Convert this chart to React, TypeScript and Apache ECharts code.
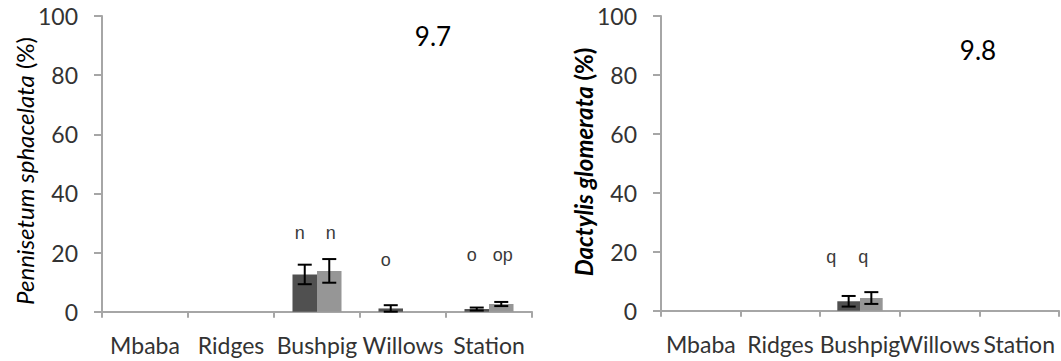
import React, { useEffect, useRef } from "react";
import * as echarts from "echarts";

const categories = ["Mbaba", "Ridges", "Bushpig", "Willows", "Station"];

// Panel 9.7 — Pennisetum sphacelata
const pennDark = [0, 0, 12.6, 1.1, 0.9];
const pennDarkErr = [0, 0, 3.3, 1.1, 0.5];
const pennLight = [0, 0, 13.8, 0, 2.6];
const pennLightErr = [0, 0, 4.0, 0, 0.7];
const pennLettersDark = ["", "", "n", "o", "o"];
const pennLettersLight = ["", "", "n", "", "op"];
const pennLetterY = [0, 0, 26.6, 17.5, 19.3];

// Panel 9.8 — Dactylis glomerata
const dactDark = [0, 0, 3.2, 0, 0];
const dactDarkErr = [0, 0, 1.8, 0, 0];
const dactLight = [0, 0, 4.3, 0, 0];
const dactLightErr = [0, 0, 2.0, 0, 0];
const dactLettersDark = ["", "", "q", "", ""];
const dactLettersLight = ["", "", "q", "", ""];
const dactLetterY = [0, 0, 18.2, 0, 0];

const panelLabels = ["9.7", "9.8"];
const speciesNames = ["Pennisetum sphacelata", "Dactylis glomerata"];
const unitLabel = " (%)";

const FONT = "Lato";
const DARK = "#505050";
const LIGHT = "#969696";
const AXIS = "#a6a6a6";
const TEXT = "#333333";

function errorSeries(values: number[], errs: number[], side: number, gridIdx: number) {
  const data = values.map((v, i) => [i, v, errs[i]]);
  return {
    type: "custom",
    xAxisIndex: gridIdx,
    yAxisIndex: gridIdx,
    silent: true,
    z: 5,
    data,
    renderItem: (params: any, api: any) => {
      const err = api.value(2);
      if (!err) return null;
      const idx = api.value(0);
      const v = api.value(1);
      const band = api.size([1, 0])[0];
      const barW = band * 0.285;
      const c = api.coord([idx, v]);
      const x = c[0] + side * barW / 2;
      const top = api.coord([idx, v + err])[1];
      const bot = api.coord([idx, Math.max(0, v - err)])[1];
      const hw = 7;
      const style = { stroke: "#000", lineWidth: 2 };
      return {
        type: "group",
        children: [
          { type: "line", shape: { x1: x, y1: top, x2: x, y2: bot }, style },
          { type: "line", shape: { x1: x - hw, y1: top, x2: x + hw, y2: top }, style },
          { type: "line", shape: { x1: x - hw, y1: bot, x2: x + hw, y2: bot }, style },
        ],
      };
    },
  };
}

function letterSeries(letters: string[], ys: number[], offsetFrac: number, gridIdx: number) {
  const data = letters.map((t, i) => [i, ys[i], t]);
  return {
    type: "custom",
    xAxisIndex: gridIdx,
    yAxisIndex: gridIdx,
    silent: true,
    z: 6,
    data,
    renderItem: (params: any, api: any) => {
      const t = letters[params.dataIndex];
      if (!t) return null;
      const idx = api.value(0);
      const band = api.size([1, 0])[0];
      const c = api.coord([idx, api.value(1)]);
      return {
        type: "text",
        style: {
          x: c[0] + offsetFrac * band,
          y: c[1],
          text: t,
          fill: "#3a3a3a",
          font: "18px 'Liberation Sans', Arial, sans-serif",
          align: "center",
          verticalAlign: "middle",
        },
      };
    },
  };
}

function barSeries(values: number[], color: string, gridIdx: number) {
  return {
    type: "bar",
    xAxisIndex: gridIdx,
    yAxisIndex: gridIdx,
    data: values,
    barGap: "0%",
    barCategoryGap: "43%",
    itemStyle: { color },
    silent: true,
  };
}

function xAxis(gridIdx: number) {
  return {
    type: "category",
    gridIndex: gridIdx,
    data: categories,
    axisLine: { lineStyle: { color: AXIS, width: 2 } },
    axisTick: { show: true, length: 6, lineStyle: { color: AXIS, width: 2 } },
    axisLabel: { color: TEXT, fontFamily: FONT, fontSize: 23, margin: 22, interval: 0 },
    splitLine: { show: false },
  };
}

function yAxis(gridIdx: number) {
  return {
    type: "value",
    gridIndex: gridIdx,
    min: 0,
    max: 100,
    interval: 20,
    axisLine: { show: true, lineStyle: { color: AXIS, width: 2 } },
    axisTick: { show: true, length: 8, lineStyle: { color: AXIS, width: 2 } },
    axisLabel: { color: TEXT, fontFamily: FONT, fontSize: 23, margin: 24 },
    splitLine: { show: false },
  };
}

function axisName(species: string, bold: boolean, x: number, y: number) {
  const w = bold ? "bold" : "normal";
  return {
    type: "text",
    x,
    y,
    rotation: Math.PI / 2,
    style: {
      text: `{i|${species}}{n|${unitLabel}}`,
      align: "center",
      verticalAlign: "middle",
      rich: {
        i: { fontFamily: FONT, fontSize: 24, fontStyle: "italic", fontWeight: w, fill: "#000" },
        n: { fontFamily: FONT, fontSize: 24, fontStyle: "normal", fontWeight: w, fill: "#000" },
      },
    },
  };
}

export default function App() {
  const ref = useRef<HTMLDivElement>(null);
  useEffect(() => {
    if (!ref.current) return;
    const chart = echarts.init(ref.current, undefined, { renderer: "svg" });
    chart.setOption({
      animation: false,
      backgroundColor: "#ffffff",
      grid: [
        { left: 102, top: 16, width: 430, height: 295.7 },
        { left: 661, top: 16, width: 398, height: 294.7 },
      ],
      xAxis: [xAxis(0), xAxis(1)],
      yAxis: [yAxis(0), yAxis(1)],
      graphic: [
        axisName(speciesNames[0], false, 24, 171),
        axisName(speciesNames[1], true, 583, 162),
        {
          type: "text",
          x: 433,
          y: 35.5,
          style: { text: panelLabels[0], font: `26px ${FONT}`, fill: "#000", align: "center", verticalAlign: "middle" },
        },
        {
          type: "text",
          x: 978,
          y: 49.5,
          style: { text: panelLabels[1], font: `26px ${FONT}`, fill: "#000", align: "center", verticalAlign: "middle" },
        },
      ],
      series: [
        barSeries(pennDark, DARK, 0),
        barSeries(pennLight, LIGHT, 0),
        errorSeries(pennDark, pennDarkErr, -1, 0),
        errorSeries(pennLight, pennLightErr, 1, 0),
        letterSeries(pennLettersDark, pennLetterY, -0.2, 0),
        letterSeries(pennLettersLight, pennLetterY, 0.16, 0),
        barSeries(dactDark, DARK, 1),
        barSeries(dactLight, LIGHT, 1),
        errorSeries(dactDark, dactDarkErr, -1, 1),
        errorSeries(dactLight, dactLightErr, 1, 1),
        letterSeries(dactLettersDark, dactLetterY, -0.36, 1),
        letterSeries(dactLettersLight, dactLetterY, 0.04, 1),
      ],
    });
    return () => chart.dispose();
  }, []);
  return (
    <div
      ref={ref}
      style={{ position: "fixed", left: 0, top: 0, width: 1061, height: 361, background: "#fff" }}
    />
  );
}
